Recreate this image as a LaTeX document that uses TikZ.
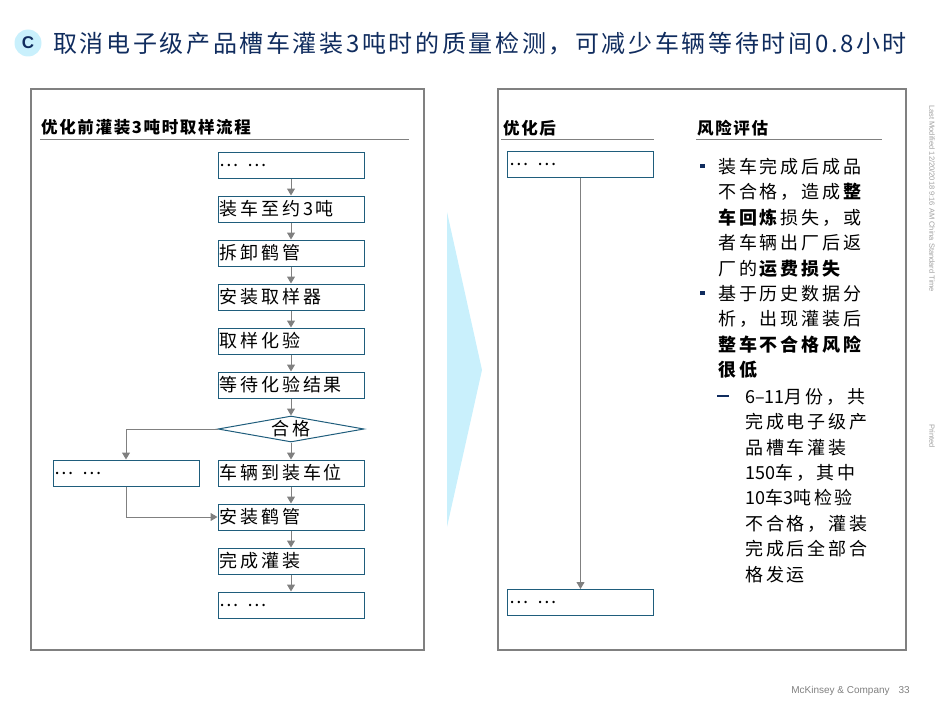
\documentclass[tikz,border=0pt]{standalone}
\usepackage{fontspec}
\setmainfont{Liberation Sans}
\newfontfamily\cjk[LetterSpace=16]{Noto Sans CJK SC}
\newfontfamily\cjkplain{Noto Sans CJK SC}
\newfontfamily\cjkhead[LetterSpace=10]{Noto Sans CJK SC}
\newfontfamily\cjktitle[LetterSpace=11]{Noto Sans CJK SC}
\newcommand\num[1]{{\cjkplain #1}}
\usetikzlibrary{arrows.meta, positioning, shapes.geometric}
\definecolor{navy}{RGB}{16,44,94}
\definecolor{boxline}{RGB}{31,93,124}
\definecolor{framegray}{RGB}{128,128,128}
\definecolor{chevron}{RGB}{201,240,252}
\definecolor{notegray}{RGB}{160,160,160}
\tikzset{stepbox/.style={rectangle,draw=boxline,line width=1pt,text width=143pt,minimum height=26pt,inner xsep=1.5pt,inner ysep=0pt,align=left,font=\cjk\fontsize{18}{20}\selectfont},
  check/.style={diamond,draw=boxline,line width=1pt,minimum width=146pt,minimum height=26pt,inner sep=0pt,aspect=5.6,font=\cjk\fontsize{18}{20}\selectfont},
  line/.style={draw=framegray,line width=1pt,-{Triangle[length=7pt,width=8pt]}},
  panel/.style={draw=framegray,line width=1.2pt},
  rule/.style={draw=framegray,line width=1pt},
  head/.style={anchor=west,inner sep=0pt,font=\cjkhead\bfseries\fontsize{16.5}{18}\selectfont},
  note/.style={anchor=north west,align=left,inner sep=0pt,font=\cjk\fontsize{18}{25.4}\selectfont},
  bullet/.style={rectangle,fill=navy,minimum size=4.5pt,inner sep=0pt},
  subdash/.style={rectangle,fill=navy,minimum width=12pt,minimum height=2.2pt,inner sep=0pt}}

\begin{document}
\begin{tikzpicture}[x=1pt,y=1pt,node distance=17pt and 18pt]
\useasboundingbox (0,0) rectangle (941,-706);
% title
\node[circle,fill=chevron,minimum size=27pt,inner sep=0pt,text=navy,font=\bfseries\fontsize{17}{18}\selectfont] (badge) at (28,-43) {C};
\node[anchor=west,inner sep=0pt,text=navy,font=\cjktitle\fontsize{24}{26}\selectfont] (title) at (53,-44) {取消电子级产品槽车灌装3吨时的质量检测，可减少车辆等待时间0.8小时};
% panels
\draw[panel] (31,-89) rectangle (424,-650);
\draw[panel] (498,-89) rectangle (906,-650);
\fill[chevron] (447,-212) -- (482,-370) -- (447,-527) -- cycle;
\node[head] (h1) at (41,-127) {优化前灌装3吨时取样流程};
\draw[rule] (40,-139.5) -- (409,-139.5);
\node[head] (h2) at (503,-128) {优化后};
\draw[rule] (501,-139.5) -- (654,-139.5);
\node[head] (h3) at (697,-128) {风险评估};
\draw[rule] (696,-139.5) -- (882,-139.5);
% before
\node[stepbox] (s0) at (291,-165) {…\hspace{9pt}…};
\node[stepbox, below=of s0] (s1) {装车至约3吨};
\node[stepbox, below=of s1] (s2) {拆卸鹤管};
\node[stepbox, below=of s2] (s3) {安装取样器};
\node[stepbox, below=of s3] (s4) {取样化验};
\node[stepbox, below=of s4] (s5) {等待化验结果};
\node[check, below=of s5] (ok) {合格};
\node[stepbox, below=of ok] (s6) {车辆到装车位};
\node[stepbox, left=of s6] (back) {…\hspace{9pt}…};
\node[stepbox, below=of s6] (s7) {安装鹤管};
\node[stepbox, below=of s7] (s8) {完成灌装};
\node[stepbox, below=of s8] (s9) {…\hspace{9pt}…};
\foreach \a/\b in {s0/s1,s1/s2,s2/s3,s3/s4,s4/s5,s5/ok,ok/s6,s6/s7,s7/s8,s8/s9}
  \draw[line] (\a) -- (\b);
\draw[line] (ok.west) -| (back.north);
\draw[line] (back.south) |- (s7.west);
% after
\node[stepbox] (a0) at (580.5,-164) {…\hspace{9pt}…};
\node[stepbox] (a1) at (580.5,-602.5) {…\hspace{9pt}…};
\draw[line] (a0) -- (a1);
% risk
\node[bullet] (b1) at (702.5,-166) {};
\node[note] (t1) at (718,-158) {装车完成后成品\\不合格，造成\textbf{整}\\\textbf{车回炼}损失，或\\者车辆出厂后返\\厂的\textbf{运费损失}};
\node[bullet] (b2) at (702.5,-293) {};
\node[note] (t2) at (718,-285) {基于历史数据分\\析，出现灌装后\\\textbf{整车不合格风险}\\\textbf{很低}};
\node[subdash] (d1) at (723,-396) {};
\node[note] (t3) at (745,-388) {\num{6–11}月份，共\\完成电子级产\\品槽车灌装\\\num{150}车，其中\\\num{10}车\num{3}吨检验\\不合格，灌装\\完成后全部合\\格发运};
% margin
\node[rotate=-90,anchor=west,inner sep=0pt,text=notegray,font=\fontsize{7.5}{9}\selectfont] (stamp) at (932,-105) {Last Modified 12/20/2018 9:16 AM China Standard Time};
\node[rotate=-90,anchor=west,inner sep=0pt,text=notegray,font=\fontsize{7.5}{9}\selectfont] (printed) at (932,-424) {Printed};
\node[anchor=east,inner sep=0pt,text=framegray,font=\fontsize{10}{12}\selectfont] (foot) at (910,-690.5) {McKinsey \& Company\hspace{9pt}33};
\end{tikzpicture}
\end{document}
